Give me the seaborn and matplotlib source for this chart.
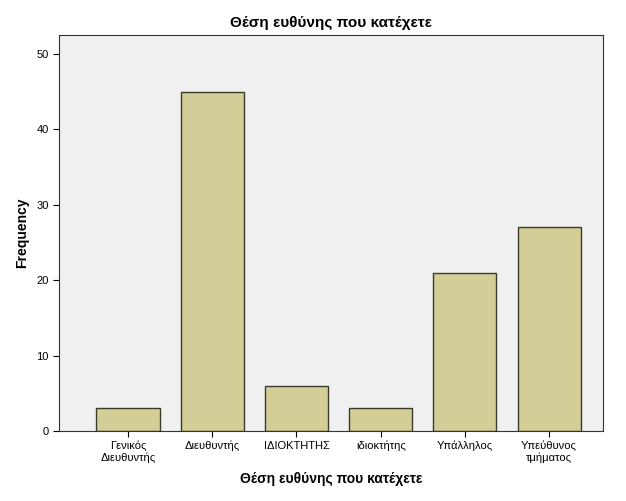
import matplotlib
matplotlib.use("Agg")
import matplotlib.pyplot as plt
import seaborn as sns
import pandas as pd

# Δεδομένα
categories = ["Γενικός\nΔιευθυντής", "Διευθυντής", "ΙΔΙΟΚΤΗΤΗΣ", "ιδιοκτήτης", "Υπάλληλος", "Υπεύθυνος\nτμήματος"]
frequency = [3, 45, 6, 3, 21, 27]

df = pd.DataFrame({"position": categories, "freq": frequency})

sns.set_style("ticks")
plt.rcParams["font.family"] = ["Liberation Sans", "DejaVu Sans"]
plt.rcParams["text.color"] = "black"
plt.rcParams["axes.labelcolor"] = "black"

fig = plt.figure(figsize=(6.26, 5.01), dpi=100)
ax = fig.add_axes([59 / 626, 1 - 431 / 501, 544 / 626, 396 / 501])
ax.set_facecolor("#F0F0F0")

sns.barplot(data=df, x="position", y="freq", color="#D3CE97", width=0.75,
            edgecolor="#3a3a2a", linewidth=1.0, saturation=1, ax=ax)

ax.set_xlim(-0.82, 5.64)
ax.set_ylim(0, 52.5)
ax.set_yticks([0, 10, 20, 30, 40, 50])
ax.tick_params(axis="both", labelsize=8, colors="black", length=4, width=0.8)
ax.tick_params(axis="x", pad=3)
for s in ax.spines.values():
    s.set_color("#333333")
    s.set_linewidth(0.8)

ax.set_title("Θέση ευθύνης που κατέχετε", fontsize=11, fontweight="bold", pad=6, color="black")
ax.set_xlabel("Θέση ευθύνης που κατέχετε", fontsize=10, fontweight="bold", labelpad=6)
ax.set_ylabel("Frequency", fontsize=10, fontweight="bold", labelpad=5)

fig.savefig("out.png", dpi=100)
